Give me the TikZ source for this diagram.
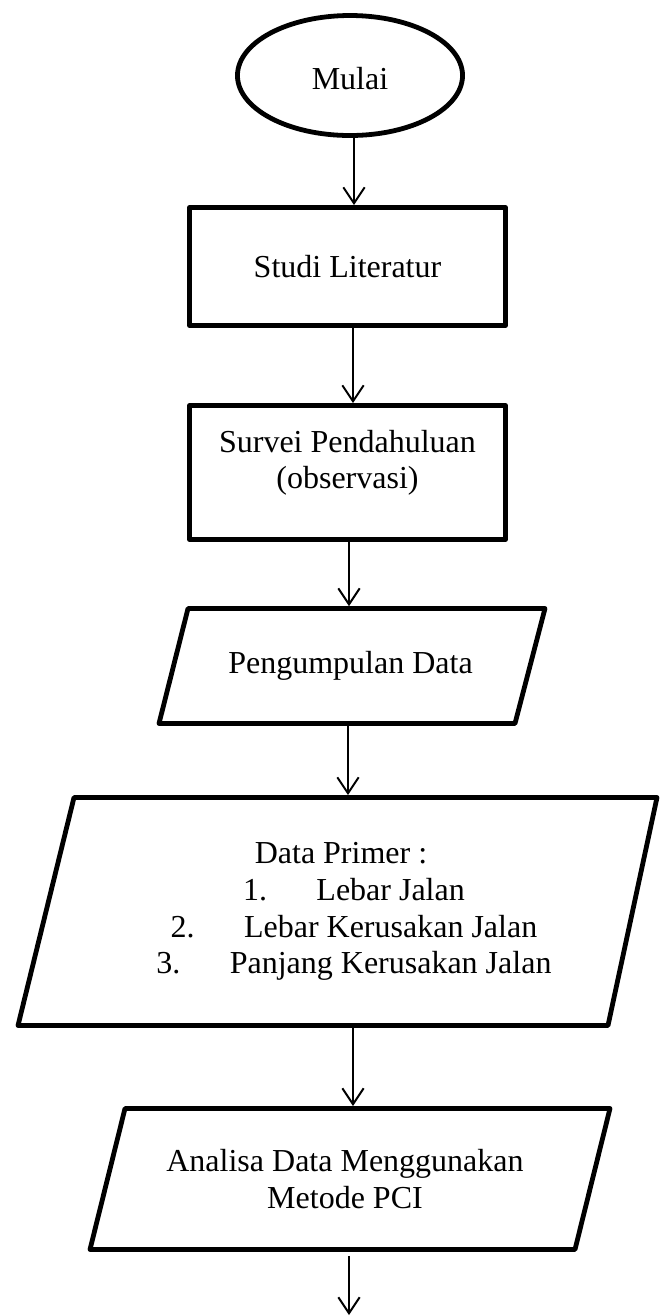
\documentclass[tikz,border=0pt]{standalone}
\usepackage{fontspec}
\setmainfont{Liberation Serif}
\usetikzlibrary{arrows.meta,shapes.geometric}
\begin{document}
\begin{tikzpicture}[x=0.375pt,y=-0.375pt,
  every node/.style={font=\fontsize{12pt}{13.8pt}\selectfont},
  shapeline/.style={draw=black,line width=1.8pt,line join=round},
  termbox/.style={shapeline,ellipse,inner sep=0pt,minimum width=84.4pt,minimum height=45pt},
  procbox/.style={shapeline,rectangle,inner sep=0pt,minimum width=118.5pt,align=center},
  paratext/.style={inner sep=0pt,outer sep=0.9pt,align=center},
  arr/.style={line width=0.75pt,-{Straight Barb[length=6pt,width=8pt,line width=0.75pt]}}]
\useasboundingbox (0,0) rectangle (661,1316);
% arrow x positions
\coordinate (ax1) at (354,0);
\coordinate (ax2) at (353,0);
\coordinate (ax3) at (349,0);
\coordinate (ax4) at (348,0);
\coordinate (ax5) at (353,0);
\coordinate (ax6) at (349,0);
\coordinate (endpt) at (349,1315);
% nodes
\node[termbox] (mulai) at (350,75.5) {\raisebox{-1.2pt}[\height][\depth]{Mulai}};
\node[procbox,minimum height=44.25pt] (studi) at (347.5,266.5) {Studi Literatur};
\node[procbox,minimum height=50.25pt] (survei) at (347.5,472.5) {Survei Pendahuluan\\(observasi)\\[-4pt]\rule{0pt}{0pt}};
\node[paratext,minimum height=43.1pt] (kumpul) at (350.5,666) {Pengumpulan Data};
\draw[shapeline] (188,608.5) -- (545,608.5) -- (515,723.5) -- (159,723.5) -- cycle;
\node[paratext,minimum height=85.5pt] (primer) at (354,911.5)
  {Data Primer :\hspace*{9.75pt}\\
   1.\hspace{18.5pt}Lebar Jalan\\
   2.\hspace{18.5pt}Lebar Kerusakan Jalan\\
   3.\hspace{18.5pt}Panjang Kerusakan Jalan};
\draw[shapeline] (74,797.5) -- (657,797.5) -- (608,1025.5) -- (18,1025.5) -- cycle;
\node[paratext,minimum height=52.9pt] (analisa) at (345,1179)
  {Analisa Data Menggunakan\\Metode PCI};
\draw[shapeline] (125,1108.5) -- (610,1108.5) -- (575,1249.5) -- (90,1249.5) -- cycle;
% connectors
\draw[arr] (mulai.south -| ax1) -- (studi.north -| ax1);
\draw[arr] (studi.south -| ax2) -- (survei.north -| ax2);
\draw[arr] (survei.south -| ax3) -- (kumpul.north -| ax3);
\draw[arr] (kumpul.south -| ax4) -- (primer.north -| ax4);
\draw[arr] (primer.south -| ax5) -- (analisa.north -| ax5);
\draw[arr] ([yshift=-1.5pt]analisa.south -| ax6) -- (endpt);
\end{tikzpicture}
\end{document}
